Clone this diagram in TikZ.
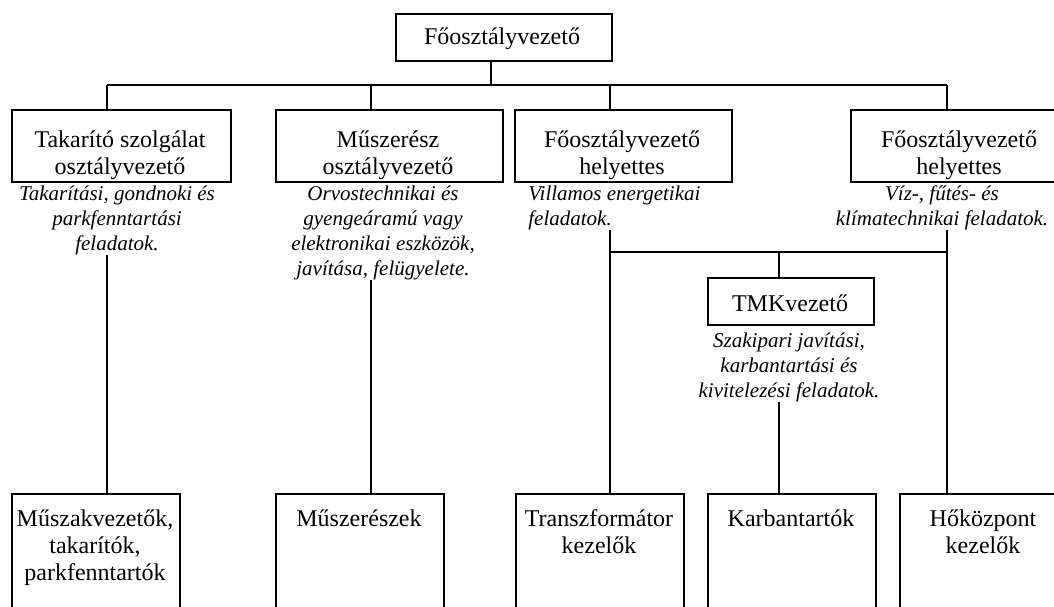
\documentclass[tikz,border=0pt]{standalone}
\usepackage{fontspec}
\setmainfont{Liberation Serif}
\begin{document}
\begin{tikzpicture}[x=0.5pt,y=-0.5pt,
  boxn/.style={draw, line width=1pt, rectangle, inner sep=0pt, anchor=north west},
  btxt/.style={font=\fontsize{12}{13.5}\selectfont, align=center, inner sep=0pt, anchor=north},
  itxt/.style={font=\fontsize{10.5}{12.5}\selectfont\itshape, align=center, inner sep=0pt, anchor=north},
  conn/.style={line width=1pt}]
\clip (0,0) rectangle (1054,606);
\fill[white] (0,0) rectangle (1054,606);

% boxes
\node[boxn, minimum width=108pt, minimum height=23.5pt] (top) at (395,13) {};
\node[boxn, minimum width=109.5pt, minimum height=36pt] (b1) at (11,109) {};
\node[boxn, minimum width=113.5pt, minimum height=36pt] (b2) at (275,109) {};
\node[boxn, minimum width=108.5pt, minimum height=36pt] (b3) at (514,109) {};
\node[boxn, minimum width=109.5pt, minimum height=36pt] (b4) at (850,109) {};
\node[boxn, minimum width=83pt, minimum height=23.5pt] (tmk) at (707,277) {};
\node[boxn, minimum width=84pt, minimum height=80pt] (m1) at (11,493) {};
\node[boxn, minimum width=84pt, minimum height=80pt] (m2) at (275,493) {};
\node[boxn, minimum width=84pt, minimum height=80pt] (m3) at (515,493) {};
\node[boxn, minimum width=84pt, minimum height=80pt] (m4) at (707,493) {};
\node[boxn, minimum width=84pt, minimum height=80pt] (m5) at (899,493) {};

% box texts
\node[btxt] (topt) at (502,25.6) {\strut Főosztályvezető};
\node[btxt] (b1t) at (120,128.6) {\strut Takarító szolgálat\\osztályvezető};
\node[btxt] (b2t) at (388,128.6) {\strut Műszerész\\osztályvezető};
\node[btxt] (b3t) at (622,128.6) {\strut Főosztályvezető\\helyettes};
\node[btxt] (b4t) at (959,128.6) {\strut Főosztályvezető\\helyettes};
\node[btxt] (tmkt) at (790,292.1) {\strut TMKvezető};
\node[btxt] (m1t) at (95,507.1) {\strut Műszakvezetők,\\takarítók,\\parkfenntartók};
\node[btxt] (m2t) at (359,507.1) {\strut Műszerészek};
\node[btxt] (m3t) at (599,507.1) {\strut Transzformátor\\kezelők};
\node[btxt] (m4t) at (791,507.1) {\strut Karbantartók};
\node[btxt] (m5t) at (983,507.1) {\strut Hőközpont\\kezelők};

% descriptions
\node[itxt] (d1) at (117,182.5) {\strut Takarítási, gondnoki és\\parkfenntartási\\feladatok.};
\node[itxt] (d2) at (383,182.5) {\strut Orvostechnikai és\\gyengeáramú vagy\\elektronikai eszközök,\\javítása, felügyelete.};
\node[itxt, align=left, anchor=north west] (d3) at (528,182.5) {\strut Villamos energetikai\\feladatok.};
\node[itxt] (d4) at (942,182.5) {\strut Víz-, fűtés- és\\klímatechnikai feladatok.};
\node[itxt] (tmkd) at (789,329.5) {\strut Szakipari javítási,\\karbantartási és\\kivitelezési feladatok.};

% junction coordinates
\coordinate (j0) at (491,85);
\coordinate (j1) at (107,85);
\coordinate (j2) at (371,85);
\coordinate (j3) at (610,85);
\coordinate (j4) at (947,85);
\coordinate (k3) at (610,252);
\coordinate (k4) at (947,252);
\coordinate (k5) at (779,252);

% connectors
\draw[conn] (top.south -| j0) -- (j0);
\draw[conn] (j1) -- (j4);
\draw[conn] (j1) -- (j1 |- b1.north);
\draw[conn] (j2) -- (j2 |- b2.north);
\draw[conn] (j3) -- (j3 |- b3.north);
\draw[conn] (j4) -- (j4 |- b4.north);
\draw[conn] (d1.south -| j1) -- (j1 |- m1.north);
\draw[conn] (d2.south -| j2) -- (j2 |- m2.north);
\draw[conn] (d3.south -| k3) -- (k3 |- m3.north);
\draw[conn] (d4.south -| k4) -- (k4 |- m5.north);
\draw[conn] (k3) -- (k4);
\draw[conn] (k5) -- (k5 |- tmk.north);
\draw[conn] (tmkd.south -| k5) -- (k5 |- m4.north);
\end{tikzpicture}
\end{document}
